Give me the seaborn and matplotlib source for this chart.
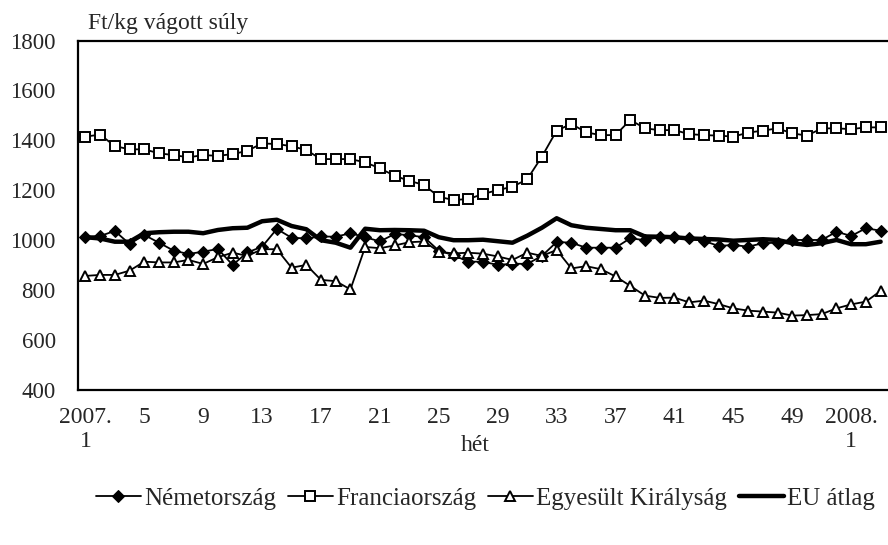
import matplotlib
matplotlib.use("Agg")
import matplotlib.pyplot as plt
import seaborn as sns
import numpy as np
import pandas as pd

# weekly prices, 2007 week 1 .. 2008 week 3 (Ft/kg carcass weight)
weeks = list(range(1, 53)) + [1, 2, 3]

germany = [1014, 1017, 1037, 985, 1021, 990, 958, 945, 954, 965, 901, 951, 974, 1045,
           1010, 1007, 1015, 1014, 1028, 1012, 995, 1025, 1020, 1012, 958, 940, 914, 914,
           901, 906, 905, 937, 993, 990, 970, 970, 970, 1008, 1000, 1013, 1013,
           1007, 997, 977, 981, 974, 988, 990, 1001, 1001, 1001, 1034, 1017, 1048, 1038]

france = [1415, 1423, 1377, 1364, 1364, 1348, 1341, 1332, 1341, 1338, 1345, 1358, 1388, 1385,
          1377, 1361, 1325, 1325, 1325, 1312, 1288, 1258, 1238, 1221, 1174, 1161, 1165, 1185,
          1201, 1214, 1244, 1335, 1439, 1466, 1432, 1421, 1421, 1482, 1448, 1441, 1441,
          1425, 1421, 1419, 1415, 1431, 1439, 1448, 1428, 1419, 1448, 1448, 1445, 1452, 1452]

uk = [857, 861, 861, 878, 914, 911, 911, 921, 905, 932, 950, 937, 964, 964,
      890, 901, 841, 836, 803, 973, 968, 979, 992, 995, 954, 947, 950, 946,
      935, 921, 950, 937, 961, 887, 896, 884, 855, 817, 778, 769, 770,
      751, 758, 744, 727, 718, 714, 710, 698, 700, 704, 727, 743, 754, 797]

eu_avg = [1012, 1007, 994, 994, 1028, 1032, 1034, 1034, 1028, 1041, 1048, 1050, 1076, 1082,
          1057, 1044, 1000, 990, 970, 1046, 1040, 1041, 1040, 1038, 1012, 1000, 1000, 1002,
          996, 990, 1018, 1050, 1088, 1060, 1050, 1045, 1040, 1040, 1015, 1014, 1012,
          1007, 1005, 1003, 998, 1001, 1004, 1001, 988, 981, 988, 1001, 984, 984, 994]

series_names = ["Németország", "Franciaország", "Egyesült Királyság", "EU átlag"]

tick_pos = list(range(0, 53, 4))
tick_labels = ["2007.\n1"] + [str(w) for w in range(5, 50, 4)] + ["2008.\n1"]

sns.set_theme(style="white")
plt.rcParams["font.family"] = ["Liberation Serif", "DejaVu Serif"]
plt.rcParams["font.size"] = 17

fig = plt.figure(figsize=(8.88, 5.45), dpi=100)
ax = fig.add_axes([78 / 888, 1 - 390 / 545, 1 - 78 / 888, (390 - 40.5) / 545])

x = np.arange(len(weeks))
styles = [
    dict(marker="D", markersize=6, markerfacecolor="black", markeredgecolor="black", lw=1.3),
    dict(marker="s", markersize=7.2, markerfacecolor="white", markeredgecolor="black",
         markeredgewidth=1.4, lw=1.3),
    dict(marker="^", markersize=7.5, markerfacecolor="white", markeredgecolor="black",
         markeredgewidth=1.4, lw=1.3),
    dict(marker=None, lw=3.2),
]
for name, vals, st in zip(series_names, [germany, france, uk, eu_avg], styles):
    sns.lineplot(x=x, y=vals, ax=ax, color="black", label=name, **st)

ax.set_xlim(-0.5, len(weeks) - 0.5)
ax.set_ylim(400, 1800)
ax.set_yticks(range(400, 1801, 200))
ax.set_xticks(tick_pos)
ax.set_xticklabels(tick_labels, linespacing=1.2)
ax.set_xticks(np.arange(-0.5, len(weeks), 1), minor=True)
ax.tick_params(axis="x", which="major", length=0, pad=12, labelsize=17)
ax.tick_params(axis="x", which="minor", length=5, width=1, color="black", direction="out")
ax.tick_params(axis="y", length=6, width=1, color="black", direction="out", pad=10,
               labelsize=16.5)

for side in ["left", "bottom", "top"]:
    ax.spines[side].set_color("black")
    ax.spines[side].set_linewidth(1.6)
ax.spines["right"].set_visible(False)

ax.set_xlabel("hét", fontsize=17)
ax.xaxis.set_label_coords(0.49, -0.13)
ax.set_ylabel("")
fig.text(88 / 888, 1 - 23 / 545, "Ft/kg vágott súly", fontsize=17, va="center", ha="left")

ax.legend(loc="center", bbox_to_anchor=(0.503, -0.31), ncol=4, frameon=False,
          fontsize=18, handlelength=1.8, handletextpad=0.15, columnspacing=0.45,
          borderaxespad=0)

fig.savefig("out.png", dpi=100)
